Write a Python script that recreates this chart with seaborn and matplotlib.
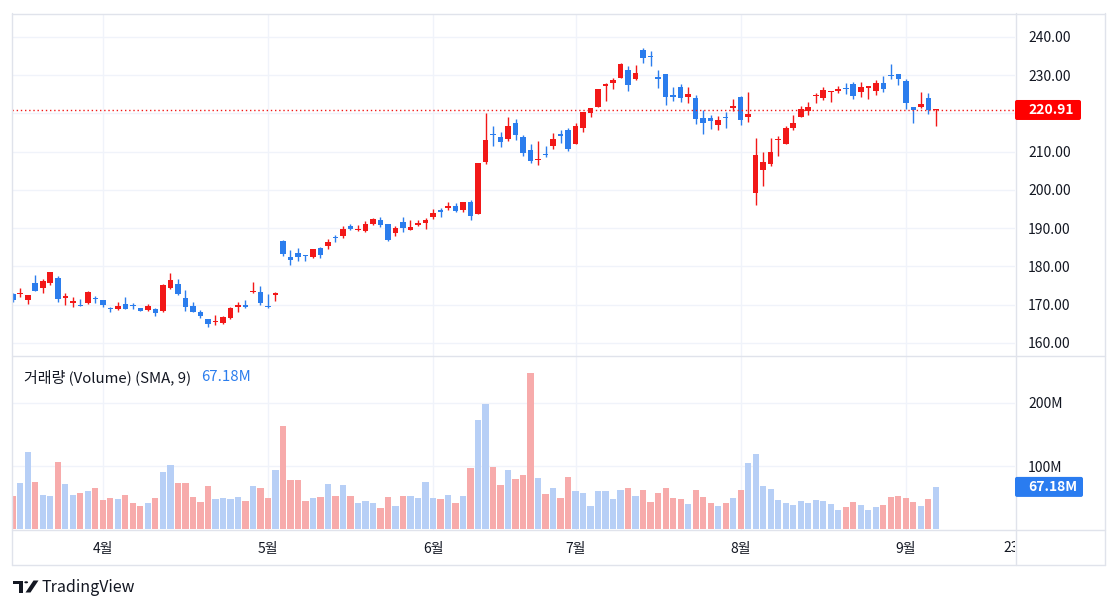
import numpy as np
import pandas as pd
import matplotlib
matplotlib.use("Agg")
import matplotlib.pyplot as plt
import seaborn as sns
from matplotlib.lines import Line2D
from matplotlib.patches import FancyBboxPatch, Polygon, Circle
from matplotlib.transforms import IdentityTransform, Bbox, TransformedBbox, blended_transform_factory

# ---------------- data ----------------
dates = ["03-13", "03-14", "03-15", "03-18", "03-19", "03-20", "03-21", "03-22", "03-25", "03-26",
         "03-27", "03-28", "04-01", "04-02", "04-03", "04-04", "04-05", "04-08", "04-09", "04-10",
         "04-11", "04-12", "04-15", "04-16", "04-17", "04-18", "04-19", "04-22", "04-23", "04-24",
         "04-25", "04-26", "04-29", "04-30", "05-01", "05-02", "05-03", "05-06", "05-07", "05-08",
         "05-09", "05-10", "05-13", "05-14", "05-15", "05-16", "05-17", "05-20", "05-21", "05-22",
         "05-23", "05-24", "05-28", "05-29", "05-30", "05-31", "06-03", "06-04", "06-05", "06-06",
         "06-07", "06-10", "06-11", "06-12", "06-13", "06-14", "06-17", "06-18", "06-20", "06-21",
         "06-24", "06-25", "06-26", "06-27", "06-28", "07-01", "07-02", "07-03", "07-05", "07-08",
         "07-09", "07-10", "07-11", "07-12", "07-15", "07-16", "07-17", "07-18", "07-19", "07-22",
         "07-23", "07-24", "07-25", "07-26", "07-29", "07-30", "07-31", "08-01", "08-02", "08-05",
         "08-06", "08-07", "08-08", "08-09", "08-12", "08-13", "08-14", "08-15", "08-16", "08-19",
         "08-20", "08-21", "08-22", "08-23", "08-26", "08-27", "08-28", "08-29", "08-30", "09-03",
         "09-04", "09-05", "09-06", "09-09"]
opens = [172.77, 172.91, 171.17, 175.57, 174.34, 175.72, 177.05, 171.76, 170.57, 170.00,
         170.41, 171.75, 171.19, 169.08, 168.79, 170.29, 169.59, 169.03, 168.70, 168.80,
         168.34, 174.26, 175.36, 171.75, 169.61, 168.03, 166.21, 165.52, 165.35, 166.54,
         169.53, 169.88, 173.37, 173.33, 169.58, 172.51, 186.65, 182.35, 183.45, 182.85,
         182.56, 184.90, 185.44, 187.51, 187.91, 190.47, 189.51, 189.33, 191.09, 192.27,
         190.98, 188.82, 191.51, 189.61, 190.76, 191.44, 192.90, 194.64, 195.40, 195.69,
         194.65, 196.90, 193.65, 207.37, 214.74, 213.85, 213.37, 217.59, 213.93, 210.39,
         207.72, 209.15, 211.50, 214.69, 215.77, 212.09, 216.15, 220.00, 221.65, 227.09,
         227.93, 229.30, 231.39, 228.92, 236.48, 235.00, 229.45, 230.28, 224.82, 227.01,
         224.37, 224.00, 218.93, 218.70, 216.96, 219.19, 221.44, 224.37, 219.15, 199.09,
         205.30, 206.90, 213.11, 212.10, 216.07, 219.01, 220.57, 224.60, 223.92, 225.72,
         225.77, 226.52, 227.79, 225.66, 226.76, 226.00, 227.92, 230.10, 230.19, 228.55,
         221.66, 221.63, 223.95, 220.82]
highs = [173.19, 174.31, 172.62, 177.71, 176.61, 178.67, 177.49, 173.05, 171.94, 171.42,
         173.60, 172.23, 171.25, 169.34, 170.68, 171.92, 170.39, 169.20, 170.08, 169.09,
         175.46, 178.36, 176.63, 173.76, 170.65, 168.64, 166.40, 167.26, 167.05, 169.30,
         170.61, 171.34, 176.03, 174.99, 172.71, 173.42, 187.00, 184.20, 184.90, 183.07,
         184.66, 185.09, 187.10, 188.30, 190.65, 191.10, 190.81, 191.92, 192.73, 192.82,
         191.00, 190.58, 193.00, 192.25, 192.18, 192.57, 194.99, 195.32, 196.90, 196.50,
         196.94, 197.30, 207.16, 220.20, 216.75, 215.17, 218.95, 218.63, 214.24, 211.89,
         212.70, 211.38, 214.86, 215.74, 216.07, 217.51, 220.38, 221.55, 226.45, 227.85,
         229.40, 233.08, 232.39, 232.64, 237.23, 236.27, 231.46, 230.44, 226.80, 227.78,
         226.94, 224.80, 220.85, 219.49, 219.30, 220.33, 223.82, 224.48, 225.60, 213.50,
         209.99, 213.64, 214.20, 216.78, 219.51, 221.89, 223.03, 225.35, 226.83, 225.99,
         227.17, 227.98, 228.34, 228.22, 227.28, 228.85, 229.86, 232.92, 230.40, 229.00,
         221.78, 225.48, 225.24, 221.27]
lows = [170.76, 172.05, 170.29, 173.52, 173.03, 175.09, 170.84, 170.06, 169.45, 169.58,
        170.11, 170.51, 169.48, 168.23, 168.58, 168.82, 168.95, 168.24, 168.35, 167.11,
        168.16, 174.21, 172.50, 168.27, 168.00, 166.55, 164.08, 164.77, 164.92, 166.21,
        168.15, 169.18, 173.10, 170.00, 169.11, 170.89, 182.66, 180.42, 181.32, 181.45,
        182.11, 182.13, 184.62, 186.29, 187.37, 189.66, 189.18, 189.01, 190.92, 190.27,
        186.63, 188.04, 189.10, 189.51, 190.63, 189.91, 192.52, 193.03, 194.87, 194.17,
        194.14, 192.15, 193.63, 206.90, 211.60, 211.30, 212.72, 213.00, 208.85, 207.11,
        206.59, 208.61, 210.64, 212.35, 210.30, 211.92, 215.10, 219.03, 221.65, 223.25,
        226.37, 229.25, 225.77, 228.68, 233.09, 232.33, 226.64, 222.27, 223.28, 223.09,
        222.68, 217.13, 214.62, 216.01, 215.75, 216.12, 220.63, 217.02, 217.71, 196.00,
        201.07, 206.39, 208.83, 211.97, 215.60, 219.01, 219.70, 222.76, 223.65, 223.04,
        225.45, 225.05, 223.90, 224.33, 223.89, 224.89, 225.68, 228.88, 227.48, 221.17,
        217.48, 221.52, 219.77, 216.71]
closes = [171.13, 173.00, 172.62, 173.72, 176.08, 178.67, 171.37, 172.28, 170.85, 169.71,
          173.31, 171.48, 170.03, 168.84, 169.65, 168.82, 169.58, 168.45, 169.67, 167.78,
          175.04, 176.55, 172.69, 169.38, 168.00, 167.04, 165.00, 165.84, 166.90, 169.02,
          169.89, 169.30, 173.50, 170.33, 169.30, 173.03, 183.38, 181.71, 182.40, 182.74,
          184.57, 183.05, 186.28, 187.43, 189.72, 189.84, 189.87, 191.04, 192.35, 190.90,
          186.88, 189.98, 189.99, 190.29, 191.29, 192.25, 194.03, 194.35, 195.87, 194.48,
          196.89, 193.12, 207.15, 213.07, 214.24, 212.49, 216.67, 214.29, 209.68, 207.49,
          208.14, 209.07, 213.25, 214.10, 210.62, 216.75, 220.27, 221.55, 226.34, 227.82,
          228.68, 232.98, 227.57, 230.54, 234.40, 234.82, 228.88, 224.18, 224.31, 223.96,
          225.01, 218.54, 217.49, 217.96, 218.24, 218.80, 222.08, 218.36, 219.86, 209.27,
          207.23, 209.82, 213.31, 216.24, 217.53, 221.27, 221.72, 224.72, 226.05, 225.89,
          226.51, 226.40, 224.53, 226.84, 227.18, 228.03, 226.49, 229.79, 229.00, 222.77,
          220.85, 222.38, 220.82, 220.91]
volumes = [52.5, 72.9, 121.7, 75.6, 55.2, 53.4, 106.2, 71.1, 54.3, 57.4,
           60.3, 65.7, 46.2, 49.3, 47.7, 53.7, 42.1, 37.4, 42.5, 49.7,
           91.1, 101.6, 73.5, 73.7, 50.9, 43.1, 68.1, 48.1, 49.5, 48.3,
           50.6, 44.8, 68.2, 65.9, 50.4, 94.2, 163.2, 78.6, 77.3, 45.1,
           48.9, 50.8, 72.0, 52.4, 70.4, 52.8, 41.3, 44.4, 42.3, 34.6,
           51.0, 36.3, 52.3, 53.1, 49.9, 75.2, 50.1, 47.5, 54.2, 41.2,
           53.1, 97.3, 172.4, 198.1, 97.9, 70.1, 93.7, 79.9, 86.2, 246.4,
           80.7, 56.7, 66.2, 49.8, 82.5, 60.4, 58.0, 37.4, 60.4, 60.0,
           48.1, 62.6, 64.7, 53.0, 62.6, 43.2, 57.3, 66.0, 49.2, 48.2,
           39.9, 61.8, 51.4, 41.6, 36.3, 41.6, 50.0, 62.5, 105.6, 119.5,
           69.4, 63.5, 47.2, 42.2, 38.0, 44.2, 41.9, 46.4, 44.3, 40.7,
           30.3, 34.8, 43.7, 38.7, 30.6, 35.9, 38.1, 51.9, 52.9, 50.2,
           43.8, 36.6, 48.4, 67.18]
month_labels = ["4월", "5월", "6월", "7월", "8월", "9월"]
month_first_dates = ["04-01", "05-01", "06-03", "07-01", "08-01", "09-03"]
future_label = "23"            # Sep 23, 10 sessions after the last bar
future_offset = 10
price_ticks = [160, 170, 180, 190, 200, 210, 220, 230, 240]
volume_ticks = [100, 200]
indicator_name = "거래량 (Volume) (SMA, 9)"
brand = "TradingView"

# ---------------- style ----------------
RED = "#F21818"
BLUE = "#2B7DED"
VOL_PINK = "#F7ABAB"
VOL_BLUE = "#B7CFF6"
GRID = "#F0F3FA"
BORDER = "#E0E3EB"
TXT = "#131722"

sns.set_theme(style="white")
plt.rcParams["font.family"] = ["Noto Sans CJK KR", "DejaVu Sans"]

W, H = 1118, 609
fig = plt.figure(figsize=(W / 100, H / 100), dpi=100)
fig.patch.set_facecolor("white")

L, R, T, SEP, B = 12, 1015, 14, 356, 530
ax = fig.add_axes([L / W, 1 - SEP / H, (R - L) / W, (SEP - T) / H])
axv = fig.add_axes([L / W, 1 - B / H, (R - L) / W, (B - SEP) / H])

n = len(dates)
idx = np.arange(n)
o = np.array(opens); h = np.array(highs); lo = np.array(lows); c = np.array(closes)
up = c > o
colors = np.where(up, RED, BLUE)

XL = (-0.1, 133.55)

# ---- candles ----
ax.vlines(idx, lo, h, colors=colors, linewidth=1.0, zorder=3)
body_bottom = np.minimum(o, c)
body_h = np.maximum(np.abs(c - o), 0.28)
ax.bar(idx, body_h, bottom=body_bottom, width=0.74, color=colors, linewidth=0, zorder=4)
ax.axhline(c[-1], color=RED, lw=1, linestyle=(0, (1, 2)), zorder=5)

ax.set_xlim(*XL)
ax.set_ylim(156.6, 246.0)

# ---- volume (seaborn) ----
df = pd.DataFrame({"i": idx, "vol": volumes, "dir": np.where(up, "up", "down")})
sns.barplot(data=df, x="i", y="vol", hue="dir", palette={"up": VOL_BLUE, "down": VOL_PINK},
            native_scale=True, dodge=False, width=0.84, errorbar=None, saturation=1,
            legend=False, linewidth=0, ax=axv, zorder=3)
axv.set_xlim(*XL)
axv.set_ylim(-0.8, 273.7)
axv.set_xlabel(""); axv.set_ylabel("")

month_idx = [dates.index(d) for d in month_first_dates]

for a in (ax, axv):
    for s in a.spines.values():
        s.set_visible(False)
    a.set_facecolor("white")
    a.set_axisbelow(True)
    a.yaxis.tick_right()
    a.tick_params(axis="y", length=0, pad=9.4, labelsize=10, labelcolor=TXT)
    a.set_xticks(month_idx)
    a.grid(True, color=GRID, lw=1)

# price labels; the one hidden under the last-price tag is left blank (as on the chart)
ax.set_yticks(price_ticks)
ax.set_yticklabels(["" if abs(v - c[-1]) < 2.6 else f"{v:.2f}" for v in price_ticks])
ax.tick_params(axis="x", length=0, labelbottom=False)

axv.set_yticks(volume_ticks)
axv.set_yticklabels([f"{v}M" for v in volume_ticks])
axv.set_xticklabels(month_labels)
axv.tick_params(axis="x", length=0, pad=9, labelsize=10, labelcolor=TXT)

# future date label, clipped by the price-scale divider
tr = blended_transform_factory(axv.transData, fig.transFigure)
t23 = fig.text(n - 1 + future_offset, 1 - 548 / H, future_label, transform=tr,
               ha="center", va="center", fontsize=10, color=TXT)
t23.set_clip_box(TransformedBbox(Bbox.from_extents(0, 0, R / W, 1), fig.transFigure))
t23.set_clip_on(True)

# indicator legend
t1 = axv.text((24 - L) / (R - L), (B - 377) / (B - SEP), indicator_name, transform=axv.transAxes,
              ha="left", va="center", fontsize=10.8, color=TXT, zorder=6)
axv.annotate(f"{volumes[-1]:.2f}M", xy=(1, 0.5), xycoords=t1, xytext=(10, 0),
             textcoords="offset pixels", ha="left", va="center", fontsize=10.8, color=BLUE)

# ---- last value labels on scales ----
fig.canvas.draw()
yd_price = ax.transData.transform((0, c[-1]))[1]
yd_vol = axv.transData.transform((0, volumes[-1]))[1]
ID = IdentityTransform()
fig.add_artist(FancyBboxPatch((R, yd_price - 10), 66, 20, boxstyle="round,pad=0,rounding_size=2",
                              transform=ID, fc="#FF0000", ec="none", zorder=10))
fig.text(1028, yd_price, f"{c[-1]:.2f}", transform=ID, color="white", fontsize=10,
         fontweight="bold", va="center", ha="left", zorder=11)
fig.add_artist(FancyBboxPatch((R, yd_vol - 10), 68, 20, boxstyle="round,pad=0,rounding_size=2",
                              transform=ID, fc="#2A7CF0", ec="none", zorder=10))
fig.text(1028, yd_vol, f"{volumes[-1]:.2f}M", transform=ID, color="white", fontsize=10,
         fontweight="bold", va="center", ha="left", zorder=11)

# ---- frame lines ----
def hline(y, x0=L, x1=1105):
    fig.add_artist(Line2D([x0 / W, x1 / W], [1 - y / H, 1 - y / H], color=BORDER, lw=1,
                          transform=fig.transFigure, zorder=8))

def vline(x, y0=13, y1=565):
    fig.add_artist(Line2D([x / W, x / W], [1 - y0 / H, 1 - y1 / H], color=BORDER, lw=1,
                          transform=fig.transFigure, zorder=8))

hline(13.5); hline(SEP); hline(B); hline(565)
vline(L); vline(1105); vline(R + 0.5)

# ---- TradingView logo + text ----
def P(x, y):
    return (x / W, 1 - y / H)

logo_color = TXT
fig.add_artist(Polygon([P(13, 580.5), P(23, 580.5), P(23, 583.5), P(13, 583.5)],
                       closed=True, fc=logo_color, ec="none", transform=fig.transFigure))
fig.add_artist(Polygon([P(18.5, 580.5), P(23, 580.5), P(23, 592.5), P(18.5, 592.5)],
                       closed=True, fc=logo_color, ec="none", transform=fig.transFigure))
fig.add_artist(Circle(P(26.2, 582.3), 1.9 / W, fc=logo_color, ec="none", transform=fig.transFigure))
fig.add_artist(Polygon([P(25.5, 592.5), P(30.5, 592.5), P(38.5, 580.5), P(33.5, 580.5)],
                       closed=True, fc=logo_color, ec="none", transform=fig.transFigure))
fig.text(41 / W, 1 - 587 / H, brand, ha="left", va="center", fontsize=11.5, color=TXT)

fig.savefig("out.png", dpi=100, facecolor="white")
